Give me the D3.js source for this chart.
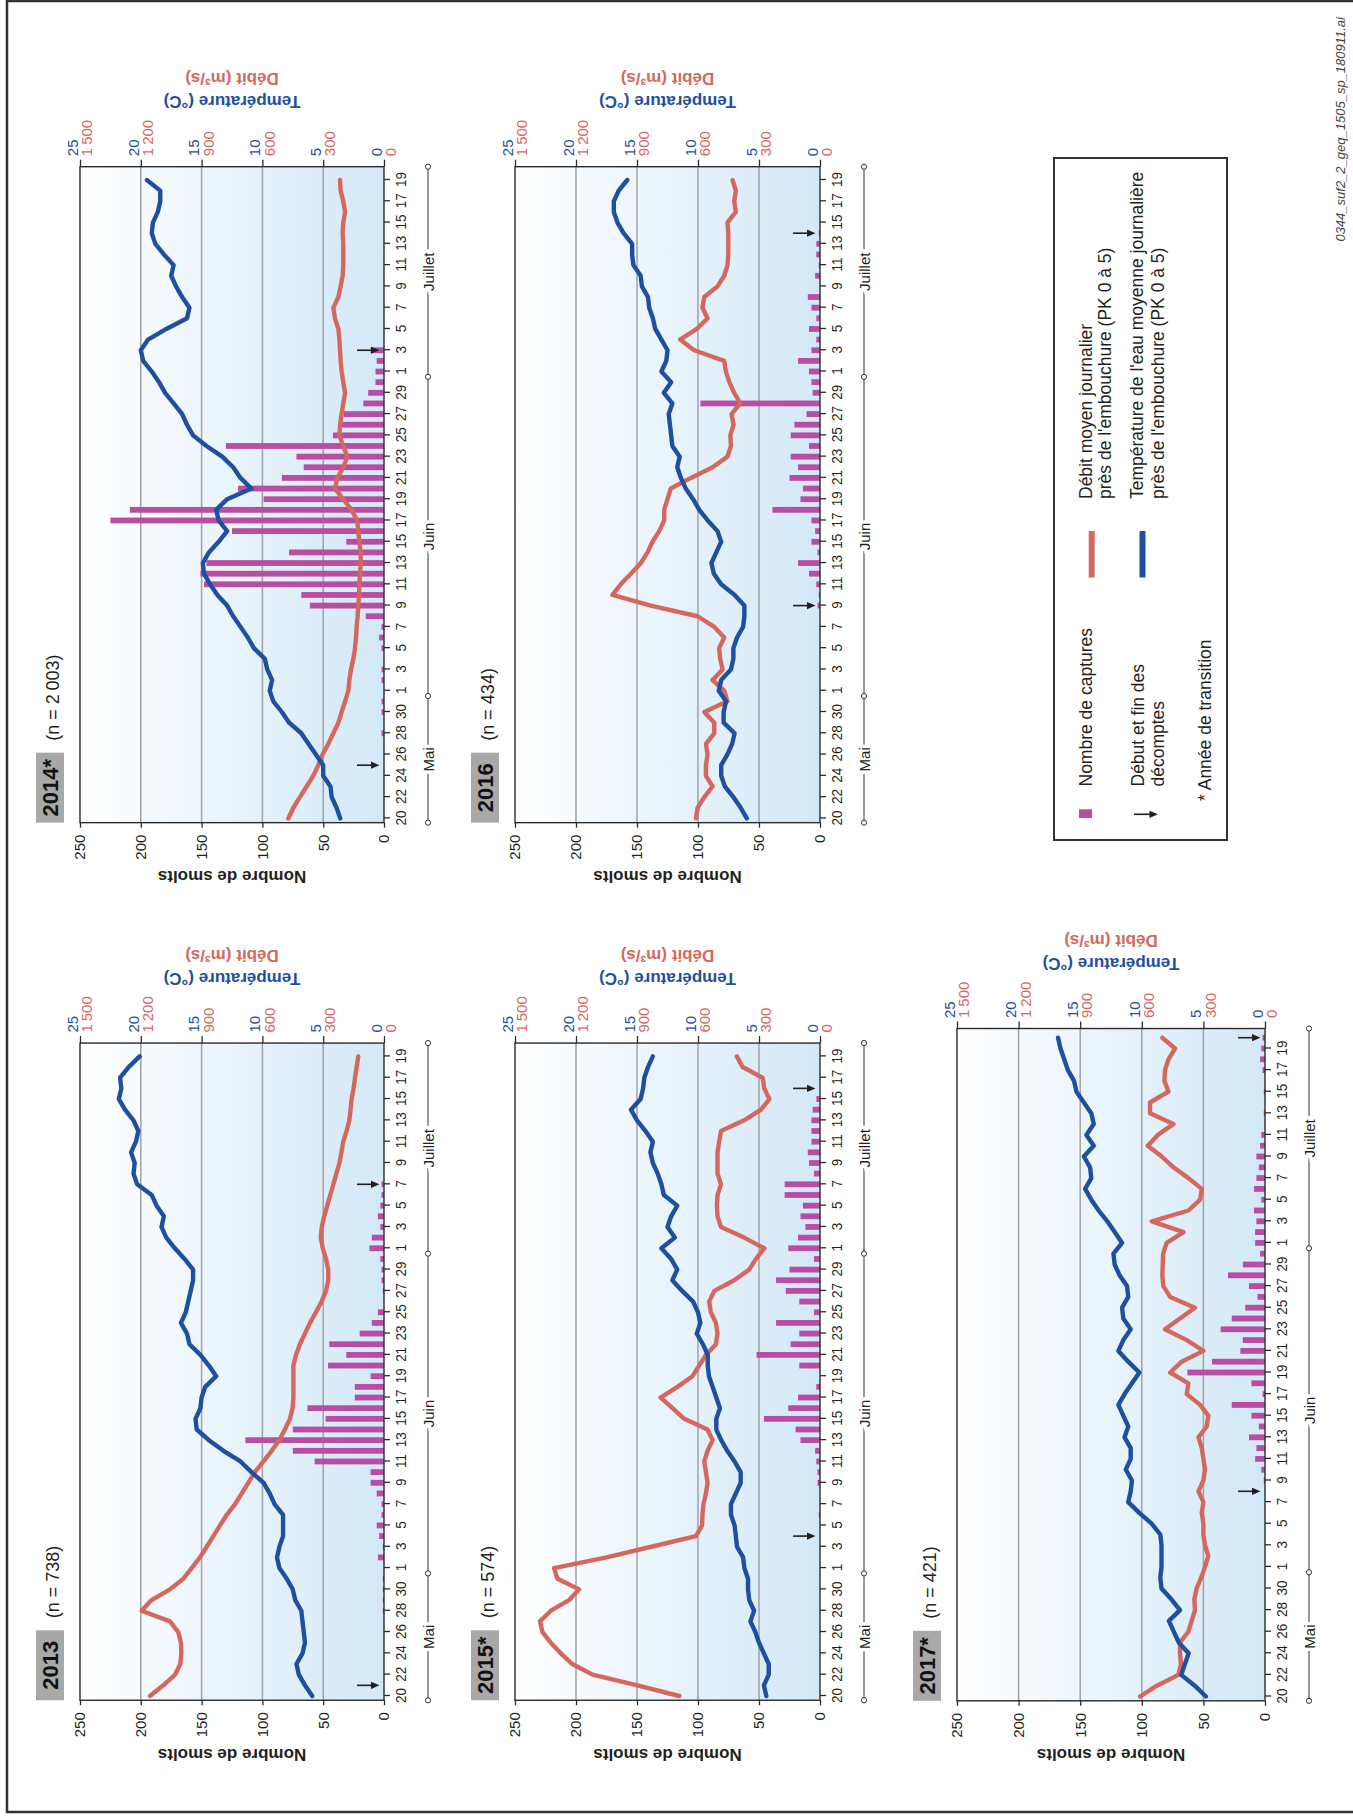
<!DOCTYPE html>
<html>
<head>
<meta charset="utf-8">
<title>Smolts 2013-2017</title>
<script src="https://cdn.jsdelivr.net/npm/d3@7"></script>
<style>
  body { margin: 0; background: #fff; }
  svg text { font-family: "Liberation Sans", Arial, Helvetica, sans-serif; }
</style>
</head>
<body>
<div id="chart"></div>
<script>
// ---- data (day index 0 = 20 mai ... 60 = 19 juillet) ----
var dateLabels = ["20","22","24","26","28","30",
  "1","3","5","7","9","11","13","15","17","19","21","23","25","27","29",
  "1","3","5","7","9","11","13","15","17","19"];
var monthNames = ["Mai", "Juin", "Juillet"];
var monthStart = [0, 12, 42];

var years = ["2013", "2014*", "2015*", "2016", "2017*"];
var nSmolts = ["738", "2\u2009003", "574", "434", "421"];

var captures2013 = [0,0,0,0,0,0,0,0,1,1,1,1,0,5,1,4,6,2,2,6,11,11,57,75,114,75,48,63,24,24,11,46,31,45,20,10,5,0,1,2,2,3,12,10,3,5,3,2,2,0,0,0,0,0,0,0,0,0,0,0,0];
var temp2013 = [5.9,6.5,7.0,7.2,6.7,6.5,6.6,6.7,6.8,7.3,7.5,8.0,8.6,8.8,8.6,8.3,8.3,8.3,9.0,9.4,9.9,10.9,11.8,13.2,14.4,15.4,15.5,15.1,15.0,14.7,13.8,14.4,15.1,16.0,16.2,16.7,16.3,16.1,15.9,15.7,15.7,16.4,17.2,17.9,18.3,18.1,18.7,19.1,20.3,20.6,20.5,20.8,20.4,20.2,20.6,21.3,21.8,21.6,21.7,21.0,20.1];
var debit2013 = [1155,1089,1031,1005,1000,1002,1015,1056,1196,1147,1056,990,949,908,875,842,809,776,735,702,670,637,595,554,517,489,464,451,447,447,447,447,434,415,390,365,336,308,286,275,275,286,302,312,307,295,280,265,250,235,220,210,201,185,171,165,160,150,143,135,127];
var arrows2013 = [1, 48];

var captures2014 = [0,0,0,0,0,0,0,0,2,0,2,2,0,2,2,0,2,4,2,15,61,68,148,151,146,78,31,125,225,209,99,120,84,66,72,130,42,35,33,17,13,7,7,6,11,0,0,0,0,0,0,0,0,0,0,0,0,0,0,0,0];
var temp2014 = [3.6,3.9,4.3,4.4,5.0,5.0,5.6,6.2,6.8,7.8,8.4,9.1,9.4,9.2,9.6,9.8,10.7,11.2,11.8,12.4,12.9,13.7,14.3,14.8,14.9,14.4,13.6,12.9,13.6,13.8,12.9,10.9,11.8,12.4,13.3,14.6,15.7,16.2,16.6,17.3,18.0,18.5,19.1,19.8,20.0,19.4,17.9,16.2,16.0,16.6,17.1,17.5,17.3,18.1,18.8,19.1,19.0,18.6,18.4,18.4,19.5];
var debit2014 = [472,447,415,382,349,324,303,275,250,225,209,192,176,171,163,151,143,138,135,130,127,123,122,118,115,115,122,127,132,160,201,242,230,201,181,201,220,217,209,201,192,201,209,214,217,220,225,242,250,225,214,204,201,201,201,204,201,192,201,214,217];
var arrows2014 = [5, 44];

var captures2015 = [0,0,0,0,0,0,0,0,0,0,0,0,0,0,0,0,0,1,0,0,2,2,3,4,16,20,46,26,18,3,0,17,52,24,17,36,5,17,28,36,25,5,26,18,12,16,14,29,29,5,9,10,7,7,7,6,3,0,0,0,0];
var temp2015 = [4.4,4.6,4.2,4.2,4.6,5.0,5.3,5.7,5.4,5.8,5.9,5.9,6.2,6.3,6.8,6.9,7.0,7.3,7.3,6.9,6.5,6.5,7.0,7.6,8.1,8.5,8.5,8.2,8.5,8.8,9.1,9.2,9.2,9.6,10.1,9.8,10.0,10.4,11.3,12.1,11.7,12.2,13.0,11.9,12.5,12.2,11.7,12.8,13.0,13.3,13.7,13.9,13.7,14.3,15.0,15.5,14.7,14.5,14.4,14.1,13.7];
var debit2015 = [692,898,1119,1218,1275,1324,1365,1377,1324,1234,1185,1291,1308,1050,830,610,580,578,573,561,553,561,569,553,528,553,668,725,784,701,627,594,561,512,504,512,537,545,520,422,348,315,274,373,487,504,507,504,487,504,504,504,496,487,373,290,249,274,282,381,409];
var arrows2015 = [15, 57];

var captures2016 = [0,0,0,0,0,0,0,0,0,0,0,0,0,0,0,0,0,0,0,0,2,1,3,9,18,2,7,4,7,39,16,14,25,18,24,9,24,21,11,98,6,7,9,18,7,3,9,3,7,10,0,4,1,3,3,1,0,0,0,0,0];
var temp2016 = [6.0,6.5,7.1,7.8,8.1,8.1,7.6,7.2,7.0,7.9,7.9,7.7,8.3,8.1,7.3,7.1,7.1,6.8,6.3,6.2,6.2,7.0,8.1,8.7,8.9,8.5,8.1,8.4,9.2,9.9,10.4,11.0,11.4,11.7,11.5,12.1,12.2,12.3,12.4,12.1,12.8,12.2,13.0,12.6,12.5,13.0,13.5,13.7,14.0,14.1,14.6,14.7,15.3,15.4,15.4,16.1,16.6,16.9,16.9,16.5,15.8];
var debit2016 = [610,602,569,528,561,561,553,561,520,520,569,455,471,528,479,491,496,471,520,602,832,1021,980,930,881,848,824,791,766,766,750,734,635,528,455,438,441,425,435,392,422,446,463,471,619,688,606,553,578,569,504,471,455,451,451,451,455,414,422,414,430];
var arrows2016 = [20, 55];

// 2017 runs one day longer (to 20 juillet)
var captures2017 = [0,0,0,0,0,0,0,0,0,0,0,0,0,0,0,0,0,0,0,0,1,3,8,7,13,5,11,27,2,11,63,43,20,18,36,27,16,6,13,30,18,4,8,8,7,9,3,9,7,5,7,4,3,0,1,0,1,0,2,4,3,2];
var temp2017 = [4.8,5.7,6.8,6.5,6.2,7.0,7.4,7.8,6.9,7.6,8.4,8.5,8.4,8.4,8.4,8.5,9.2,10.2,11.1,10.9,10.8,11.3,10.9,10.9,11.4,11.1,11.5,11.9,11.4,10.8,10.2,11.1,11.9,11.5,10.9,11.5,11.6,11.1,11.2,11.8,12.2,12.3,11.6,12.2,12.8,13.5,14.1,14.6,14.1,14.2,14.7,13.9,14.5,13.9,14.1,14.7,15.3,15.5,16.0,16.3,16.6,16.8];
var debit2017 = [608,527,422,409,414,414,373,357,341,344,333,311,292,276,292,300,300,308,300,324,300,292,300,308,324,284,276,316,381,373,462,406,300,381,487,414,341,462,495,500,498,496,479,397,551,373,316,308,373,446,503,571,522,446,560,560,470,490,487,470,438,500];
var arrows2017 = [19, 61];

var series = [
  {captures: captures2013, temp: temp2013, debit: debit2013, arrows: arrows2013},
  {captures: captures2014, temp: temp2014, debit: debit2014, arrows: arrows2014},
  {captures: captures2015, temp: temp2015, debit: debit2015, arrows: arrows2015},
  {captures: captures2016, temp: temp2016, debit: debit2016, arrows: arrows2016},
  {captures: captures2017, temp: temp2017, debit: debit2017, arrows: arrows2017}
];

// ---- layout (figure drawn landscape, then turned) ----
var W = 1353, H = 1820;
var layout = [
  {x0: 124,    dayW: 10.66, top: 80,  bottom: 384,  dMax: 61.25},
  {x0: 1001.6, dayW: 10.64, top: 80,  bottom: 384,  dMax: 61.25},
  {x0: 124,    dayW: 10.66, top: 515, bottom: 820,  dMax: 61.25},
  {x0: 1001.6, dayW: 10.64, top: 515, bottom: 820,  dMax: 61.25},
  {x0: 123.5,  dayW: 10.8,  top: 957, bottom: 1265, dMax: 61.85}
];

var blue = "#1f4f9f", red = "#d4685f", pink = "#b84da4", ink = "#231f20";

var svg = d3.select("#chart").append("svg")
    .attr("width", W)
    .attr("height", H);

var grad = svg.append("defs").append("linearGradient")
    .attr("id", "plotbg")
    .attr("x1", 0).attr("y1", 0).attr("x2", 0).attr("y2", 1);
grad.append("stop").attr("offset", "0%").attr("stop-color", "#ffffff");
grad.append("stop").attr("offset", "100%").attr("stop-color", "#d3e8f7");

var page = svg.append("g")
    .attr("transform", "translate(0," + H + ") rotate(-90)");

page.append("rect")
    .attr("x", 8).attr("y", 7)
    .attr("width", 1811).attr("height", 1370)
    .attr("fill", "none")
    .attr("stroke", "#333")
    .attr("stroke-width", 2.5);

function fmtDebit(d) {
  return d >= 1000 ? d3.format(",")(d).replace(",", "\u2009") : String(d);
}

function cleanAxis(ax, color) {
  ax.attr("font-family", null).attr("font-size", null);
  ax.select(".domain").remove();
  ax.selectAll(".tick line").attr("stroke", "#2b2b2b").attr("stroke-width", 1.3);
  ax.selectAll("text").attr("font-size", 15).attr("fill", color);
}

function drawPanel(k) {
  var p = layout[k], s = series[k];
  var g = page.append("g");

  var x = d3.scaleLinear().domain([0, 60]).range([p.x0, p.x0 + 60 * p.dayW]);
  var yN = d3.scaleLinear().domain([0, 250]).range([p.bottom, p.top]);
  var yT = d3.scaleLinear().domain([0, 25]).range([p.bottom, p.top]);
  var yQ = d3.scaleLinear().domain([0, 1500]).range([p.bottom, p.top]);
  var left = x(-0.4), right = x(p.dMax), midY = (p.top + p.bottom) / 2;

  // plot background
  g.append("rect")
      .attr("x", left).attr("y", p.top)
      .attr("width", right - left).attr("height", p.bottom - p.top)
      .attr("fill", "url(#plotbg)");

  g.selectAll("line.grid")
    .data([50, 100, 150, 200])
    .enter().append("line")
      .attr("class", "grid")
      .attr("x1", left).attr("x2", right)
      .attr("y1", function(d) { return yN(d); })
      .attr("y2", function(d) { return yN(d); })
      .attr("stroke", "#9ea2a5")
      .attr("stroke-width", 1.5);

  // captures
  var bars = s.captures
    .map(function(v, i) { return {day: i, v: v}; })
    .filter(function(b) { return b.v > 0; });
  g.selectAll("rect.bar")
    .data(bars)
    .enter().append("rect")
      .attr("class", "bar")
      .attr("x", function(b) { return x(b.day) - 2.9; })
      .attr("width", 5.8)
      .attr("y", function(b) { return yN(b.v); })
      .attr("height", function(b) { return p.bottom - yN(b.v); })
      .attr("fill", pink);

  // debit + temperature
  function lineFor(scale) {
    return d3.line()
      .x(function(v, i) { return x(i); })
      .y(function(v) { return scale(v); });
  }
  g.append("path")
      .datum(s.debit)
      .attr("d", lineFor(yQ))
      .attr("fill", "none")
      .attr("stroke", red)
      .attr("stroke-width", 4.4)
      .attr("stroke-linejoin", "round")
      .attr("stroke-linecap", "round");
  g.append("path")
      .datum(s.temp)
      .attr("d", lineFor(yT))
      .attr("fill", "none")
      .attr("stroke", blue)
      .attr("stroke-width", 4.4)
      .attr("stroke-linejoin", "round")
      .attr("stroke-linecap", "round");

  // frame
  g.append("rect")
      .attr("x", left).attr("y", p.top)
      .attr("width", right - left).attr("height", p.bottom - p.top)
      .attr("fill", "none")
      .attr("stroke", "#2b2b2b")
      .attr("stroke-width", 1.4);

  // start / end arrows
  s.arrows.forEach(function(d) {
    var ax0 = x(d);
    g.append("line")
        .attr("x1", ax0).attr("x2", ax0)
        .attr("y1", p.bottom - 27).attr("y2", p.bottom - 11)
        .attr("stroke", ink).attr("stroke-width", 1.6);
    g.append("path")
        .attr("d", "M" + ax0 + "," + (p.bottom - 4.5) +
                   "L" + (ax0 - 3.6) + "," + (p.bottom - 13) +
                   "L" + (ax0 + 3.6) + "," + (p.bottom - 13) + "Z")
        .attr("fill", ink);
  });

  // axes
  var axN = g.append("g")
      .attr("transform", "translate(" + left + ",0)")
      .call(d3.axisLeft(yN).tickValues([0, 50, 100, 150, 200, 250]).tickSize(5).tickPadding(7));
  cleanAxis(axN, ink);

  var axT = g.append("g")
      .attr("transform", "translate(" + right + ",0)")
      .call(d3.axisRight(yT).tickValues([0, 5, 10, 15, 20, 25]).tickSize(7).tickPadding(3.5));
  cleanAxis(axT, blue);
  axT.selectAll("text").attr("dy", "-0.18em");

  var axQ = g.append("g")
      .attr("transform", "translate(" + right + ",0)")
      .call(d3.axisRight(yQ).tickValues([0, 300, 600, 900, 1200, 1500]).tickSize(0).tickPadding(10.5).tickFormat(fmtDebit));
  cleanAxis(axQ, red);
  axQ.selectAll(".tick line").remove();
  axQ.selectAll("text").attr("dy", "0.78em");

  var axD = g.append("g")
      .attr("transform", "translate(0," + p.bottom + ")")
      .call(d3.axisBottom(x).tickValues(d3.range(0, 61, 2))
        .tickFormat(function(d, i) { return dateLabels[i]; })
        .tickSize(6).tickPadding(5));
  cleanAxis(axD, ink);
  axD.selectAll("text").attr("transform", "scale(0.9,1)");

  // month brackets
  var by = p.bottom + 44;
  var bounds = monthStart.map(function(m, i) { return i === 0 ? -0.4 : m - 0.5; }).concat([p.dMax]);
  g.append("line")
      .attr("x1", x(bounds[0])).attr("x2", x(bounds[bounds.length - 1]))
      .attr("y1", by).attr("y2", by)
      .attr("stroke", "#333").attr("stroke-width", 1);
  monthNames.forEach(function(name, i) {
    g.append("text")
        .attr("x", x((bounds[i] + bounds[i + 1]) / 2))
        .attr("y", by)
        .attr("text-anchor", "middle")
        .attr("dominant-baseline", "central")
        .attr("font-size", 15)
        .attr("fill", ink)
        .attr("stroke", "#fff")
        .attr("stroke-width", 7)
        .attr("paint-order", "stroke")
        .text(name);
  });
  g.selectAll("circle.mk")
    .data(bounds)
    .enter().append("circle")
      .attr("class", "mk")
      .attr("cx", function(b) { return x(b); })
      .attr("cy", by)
      .attr("r", 2.6)
      .attr("fill", "#fff")
      .attr("stroke", "#333")
      .attr("stroke-width", 1);

  // axis titles
  g.append("text")
      .attr("transform", "translate(" + (left - 54) + "," + midY + ") rotate(-90)")
      .attr("text-anchor", "middle")
      .attr("dominant-baseline", "central")
      .attr("font-size", 17)
      .attr("font-weight", "bold")
      .attr("fill", ink)
      .text("Nombre de smolts");
  g.append("text")
      .attr("transform", "translate(" + (right + 65) + "," + midY + ") rotate(-90)")
      .attr("text-anchor", "middle")
      .attr("dominant-baseline", "central")
      .attr("font-size", 17)
      .attr("font-weight", "bold")
      .attr("fill", blue)
      .text("Température (°C)");
  g.append("text")
      .attr("transform", "translate(" + (right + 88) + "," + midY + ") rotate(-90)")
      .attr("text-anchor", "middle")
      .attr("dominant-baseline", "central")
      .attr("font-size", 17)
      .attr("font-weight", "bold")
      .attr("fill", red)
      .text("Débit (m³/s)");

  // year tag
  g.append("rect")
      .attr("x", left).attr("y", p.top - 44)
      .attr("width", 70).attr("height", 28)
      .attr("fill", "#a8a8a8");
  g.append("text")
      .attr("x", left + 35).attr("y", p.top - 30)
      .attr("text-anchor", "middle")
      .attr("dominant-baseline", "central")
      .attr("font-size", 22)
      .attr("font-weight", "bold")
      .attr("fill", "#111")
      .text(years[k]);
  g.append("text")
      .attr("x", left + 82).attr("y", p.top - 27)
      .attr("dominant-baseline", "central")
      .attr("font-size", 18)
      .attr("fill", ink)
      .text("(n = " + nSmolts[k] + ")");
}

for (var k = 0; k < layout.length; k++) drawPanel(k);

// ---- legend ----
var lg = page.append("g");
lg.append("rect")
    .attr("x", 980).attr("y", 1054)
    .attr("width", 682).attr("height", 173)
    .attr("fill", "none")
    .attr("stroke", "#333")
    .attr("stroke-width", 2);

function legendText(x, y, str) {
  lg.append("text")
      .attr("x", x).attr("y", y)
      .attr("dominant-baseline", "central")
      .attr("font-size", 17.5)
      .attr("fill", ink)
      .text(str);
}

lg.append("rect")
    .attr("x", 1002).attr("y", 1079)
    .attr("width", 8.7).attr("height", 13)
    .attr("fill", pink);
legendText(1033.5, 1086, "Nombre de captures");

lg.append("line")
    .attr("x1", 1005.7).attr("x2", 1005.7)
    .attr("y1", 1134).attr("y2", 1150)
    .attr("stroke", ink).attr("stroke-width", 1.6);
lg.append("path")
    .attr("d", "M1005.7,1158L1002.1,1149.5L1009.3,1149.5Z")
    .attr("fill", ink);
legendText(1033.5, 1137.7, "Début et fin des");
legendText(1033.5, 1157.7, "décomptes");
legendText(1019, 1205, "* Année de transition");

lg.append("line")
    .attr("x1", 1242.5).attr("x2", 1289)
    .attr("y1", 1091.7).attr("y2", 1091.7)
    .attr("stroke", red).attr("stroke-width", 6);
legendText(1321, 1086, "Débit moyen journalier");
legendText(1321, 1105.3, "près de l'embouchure (PK 0 à 5)");

lg.append("line")
    .attr("x1", 1242.5).attr("x2", 1289)
    .attr("y1", 1142.5).attr("y2", 1142.5)
    .attr("stroke", blue).attr("stroke-width", 6);
legendText(1321, 1137, "Température de l'eau moyenne journalière");
legendText(1321, 1157.7, "près de l'embouchure (PK 0 à 5)");

// file reference
page.append("text")
    .attr("x", 1803).attr("y", 1340)
    .attr("text-anchor", "end")
    .attr("dominant-baseline", "central")
    .attr("font-size", 13)
    .attr("font-style", "italic")
    .attr("fill", "#444")
    .text("0344_suf2_2_geq_1505_sp_180911.ai");
</script>
</body>
</html>
